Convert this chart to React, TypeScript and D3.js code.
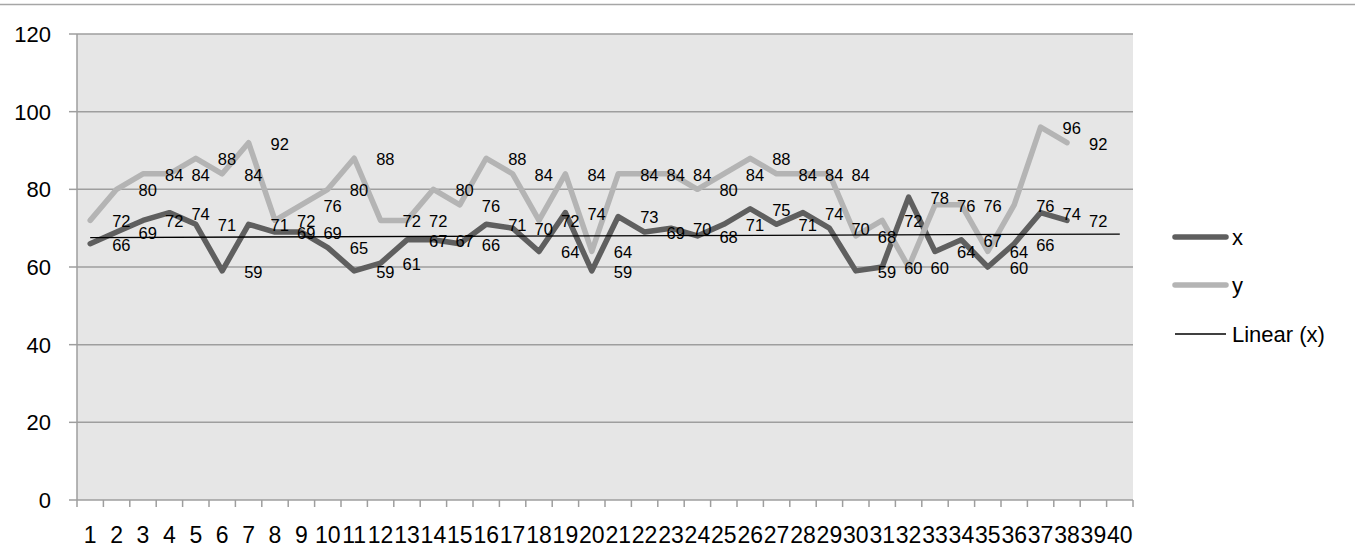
import React from 'react';
import * as d3 from 'd3';

const categories = ['1','2','3','4','5','6','7','8','9','10','11','12','13','14','15','16','17','18','19','20',
  '21','22','23','24','25','26','27','28','29','30','31','32','33','34','35','36','37','38','39','40'];
const xValues = [66, 69, 72, 74, 71, 59, 71, 69, 69, 65, 59, 61, 67, 67, 66, 71, 70, 64, 74, 59,
  73, 69, 70, 68, 71, 75, 71, 74, 70, 59, 60, 78, 64, 67, 60, 66, 74, 72];
const yValues = [72, 80, 84, 84, 88, 84, 92, 72, 76, 80, 88, 72, 72, 80, 76, 88, 84, 72, 84, 64,
  84, 84, 84, 80, 84, 88, 84, 84, 84, 68, 72, 60, 76, 76, 64, 76, 96, 92];
const yTicks = [0, 20, 40, 60, 80, 100, 120];
const seriesNames = ['x', 'y', 'Linear (x)'];

const FONT = "'Liberation Sans', Arial, sans-serif";
const DARK = '#5f5f5f';
const LIGHT = '#b4b4b4';

export default function App() {
  const W = 1355, H = 560;
  const left = 77, right = 1133, top = 34, bottom = 500;
  const xScale = d3.scaleBand<string>().domain(categories).range([left, right]).padding(0);
  const cx = (i: number) => (xScale(categories[i]) as number) + xScale.bandwidth() / 2;
  const yScale = d3.scaleLinear().domain([0, 120]).range([bottom, top]);
  const line = d3.line<number>().x((_, i) => cx(i)).y(d => yScale(d)).curve(d3.curveLinear);

  const ts = xValues.map((_, i) => i + 1);
  const mt = d3.mean(ts) as number;
  const mv = d3.mean(xValues) as number;
  const slope = d3.sum(ts.map((t, i) => (t - mt) * (xValues[i] - mv))) / d3.sum(ts.map(t => (t - mt) ** 2));
  const intercept = mv - slope * mt;
  const trend = (t: number) => intercept + slope * t;
  const t0 = 1, t1 = categories.length;

  const labelFs = 16.5;
  const axisFs = 22;
  const boundaries = d3.range(categories.length + 1).map(i => left + i * xScale.step());

  return (
    <svg width={W} height={H} style={{ position: 'absolute', left: 0, top: 0, background: '#fff' }}
      fontFamily={FONT}>
      <line x1={0} x2={W} y1={4.5} y2={4.5} stroke="#a6a6a6" strokeWidth={1.5} />
      <rect x={left} y={top} width={right - left} height={bottom - top} fill="#e6e6e6" />
      {yTicks.map(t => (
        <g key={t}>
          {t > 0 && <line x1={left} x2={right} y1={yScale(t)} y2={yScale(t)} stroke="#9e9e9e" strokeWidth={1.5} />}
          <line x1={left - 8} x2={left} y1={yScale(t)} y2={yScale(t)} stroke="#9e9e9e" strokeWidth={1.5} />
          <text x={51} y={yScale(t) + 0.358 * axisFs} fontSize={axisFs} textAnchor="end" fill="#000">{t}</text>
        </g>
      ))}
      <line x1={left} x2={left} y1={top} y2={bottom} stroke="#9e9e9e" strokeWidth={1.5} />
      <line x1={left} x2={right} y1={bottom} y2={bottom} stroke="#9e9e9e" strokeWidth={1.5} />
      {boundaries.map((b, i) => (
        <line key={i} x1={b} x2={b} y1={bottom} y2={bottom + 7} stroke="#9e9e9e" strokeWidth={1.5} />
      ))}
      {categories.map((c, i) => (
        <text key={c} x={cx(i)} y={543} fontSize={23} textAnchor="middle" fill="#000">{c}</text>
      ))}
      <path d={line(xValues) || ''} fill="none" stroke={DARK} strokeWidth={5.5} strokeLinejoin="round" strokeLinecap="round" />
      <path d={line(yValues) || ''} fill="none" stroke={LIGHT} strokeWidth={5.5} strokeLinejoin="round" strokeLinecap="round" />
      <line x1={cx(t0 - 1)} x2={cx(t1 - 1)} y1={yScale(trend(t0))} y2={yScale(trend(t1))} stroke="#000" strokeWidth={1.3} />
      {xValues.map((v, i) => (
        <text key={'xl' + i} x={cx(i) + 22} y={yScale(v) + 0.358 * labelFs + 1} fontSize={labelFs} fill="#000">{v}</text>
      ))}
      {yValues.map((v, i) => (
        <text key={'yl' + i} x={cx(i) + 22} y={yScale(v) + 0.358 * labelFs + 1} fontSize={labelFs} fill="#000">{v}</text>
      ))}
      <g>
        <line x1={1175} x2={1226} y1={237} y2={237} stroke={DARK} strokeWidth={5.5} strokeLinecap="round" />
        <text x={1232} y={237 + 0.358 * axisFs} fontSize={axisFs} fill="#000">{seriesNames[0]}</text>
        <line x1={1175} x2={1226} y1={285} y2={285} stroke={LIGHT} strokeWidth={5.5} strokeLinecap="round" />
        <text x={1232} y={285 + 0.358 * axisFs} fontSize={axisFs} fill="#000">{seriesNames[1]}</text>
        <line x1={1175} x2={1226} y1={334} y2={334} stroke="#000" strokeWidth={1.3} />
        <text x={1232} y={334 + 0.358 * axisFs} fontSize={axisFs} fill="#000">{seriesNames[2]}</text>
      </g>
    </svg>
  );
}
